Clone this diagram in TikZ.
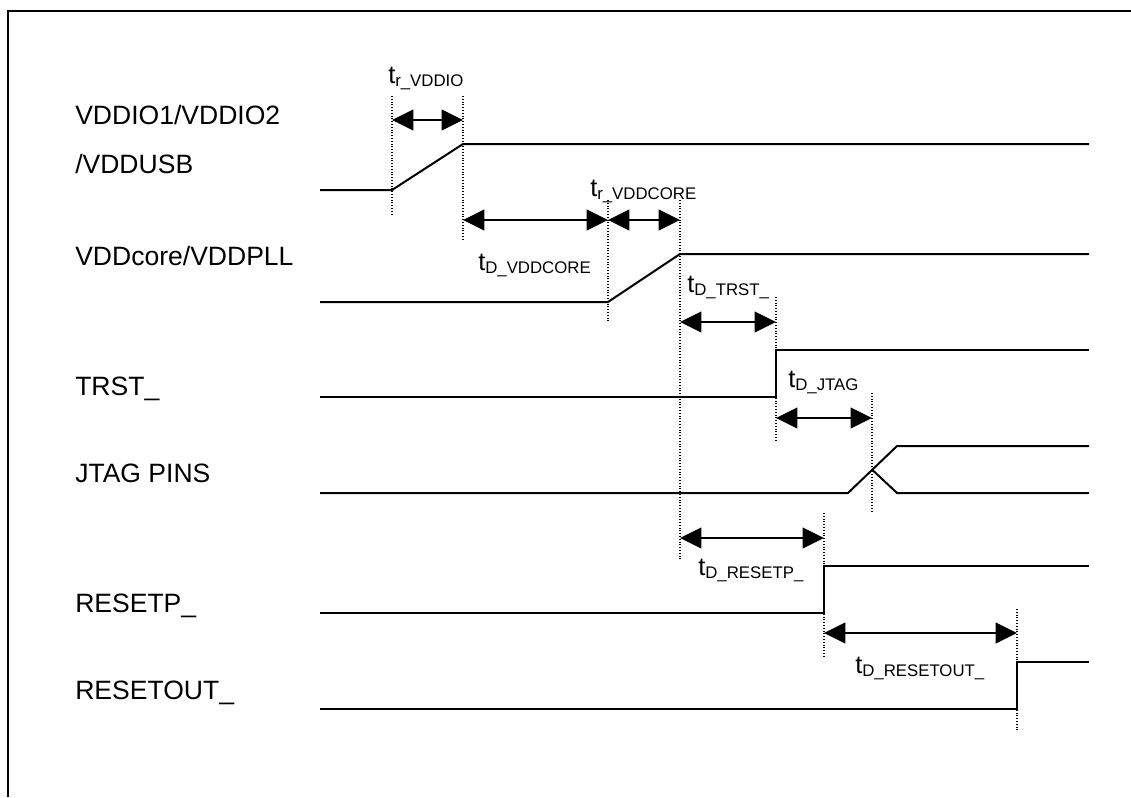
\documentclass[tikz,border=0pt]{standalone}
\usepackage{fontspec}
\setmainfont{Liberation Sans}
\usetikzlibrary{arrows.meta}
\newcommand\tlab[1]{{\fontsize{19}{19}\selectfont t}\raisebox{-2.5pt}{\fontsize{12.6}{13}\selectfont #1}}
\begin{document}
\begin{tikzpicture}[x=0.75pt,y=-0.75pt,
  frame/.style={line width=1.2pt},
  sig/.style={line width=1.5pt, line join=miter},
  guide/.style={line width=0.8pt, dash pattern=on 0.8pt off 1.3pt},
  dim/.style={line width=1.5pt, {Triangle[length=16pt,width=15.5pt]}-{Triangle[length=16pt,width=15.5pt]}},
  lbl/.style={anchor=base west, inner sep=0pt, font=\fontsize{19.9}{20}\selectfont},
  tl/.style={anchor=base west, inner sep=0pt}]
\useasboundingbox (0,0) rectangle (1131,797);
% frame (cut at right and bottom)
\draw[frame] (8,797) -- (8,11) -- (1131,11);

% signal labels
\node[lbl] (lvddio) at (75,124) {VDDIO1/VDDIO2};
\node[lbl] (lvddusb) at (75,173) {/VDDUSB};
\node[lbl] (lcore) at (75,265) {VDDcore/VDDPLL};
\node[lbl] (ltrst) at (75,395) {TRST\_};
\node[lbl] (ljtag) at (75,482) {JTAG PINS};
\node[lbl] (lresetp) at (75,612) {RESETP\_};
\node[lbl] (lresetout) at (75,699) {RESETOUT\_};

% waveforms
\draw[sig] (320,190) -- (392,190) -- (463,144) -- (1089,144);
\draw[sig] (320,302) -- (608,302) -- (680,254) -- (1089,254);
\draw[sig] (320,397) -- (776,397) -- (776,350) -- (1089,350);
\draw[sig] (320,493) -- (848,493) -- (897,446) -- (1089,446);
\draw[sig] (872.5,470) -- (897,493) -- (1089,493);
\draw[sig] (320,613) -- (824,613) -- (824,566) -- (1089,566);
\draw[sig] (320,709) -- (1017,709) -- (1017,662) -- (1089,662);

% dotted guides
\coordinate (g1t) at (392,96);  \coordinate (g1b) at (392,215);
\coordinate (g2t) at (463,96);  \coordinate (g2b) at (463,240);
\coordinate (g3t) at (608,200); \coordinate (g3b) at (608,322);
\coordinate (g4t) at (680,200); \coordinate (g4b) at (680,560);
\coordinate (g5t) at (776,297); \coordinate (g5b) at (776,442);
\coordinate (g6t) at (872,393); \coordinate (g6b) at (872,513);
\coordinate (g7t) at (824,513); \coordinate (g7b) at (824,658);
\coordinate (g8t) at (1017,609); \coordinate (g8b) at (1017,730);
\foreach \g in {1,...,8} \draw[guide] (g\g t) -- (g\g b);

% dimension arrows
\coordinate (a1l) at (392,120); \coordinate (a1r) at (463,120);
\coordinate (a2l) at (463,220); \coordinate (a2r) at (608,220);
\coordinate (a3l) at (608,220); \coordinate (a3r) at (680,220);
\coordinate (a4l) at (680,322); \coordinate (a4r) at (776,322);
\coordinate (a5l) at (776,418); \coordinate (a5r) at (872,418);
\coordinate (a6l) at (680,538); \coordinate (a6r) at (824,538);
\coordinate (a7l) at (824,633); \coordinate (a7r) at (1017,633);
\foreach \a in {1,...,7} \draw[dim] (a\a l) -- (a\a r);

% timing labels
\node[tl] (t1) at (388,83)  {\tlab{r\_VDDIO}};
\node[tl] (t2) at (590,196) {\tlab{r\_VDDCORE}};
\node[tl] (t3) at (478,270) {\tlab{D\_VDDCORE}};
\node[tl] (t4) at (687,292) {\tlab{D\_TRST\_}};
\node[tl] (t5) at (788,387) {\tlab{D\_JTAG}};
\node[tl] (t6) at (698,575) {\tlab{D\_RESETP\_}};
\node[tl] (t7) at (855,673) {\tlab{D\_RESETOUT\_}};
\end{tikzpicture}
\end{document}
